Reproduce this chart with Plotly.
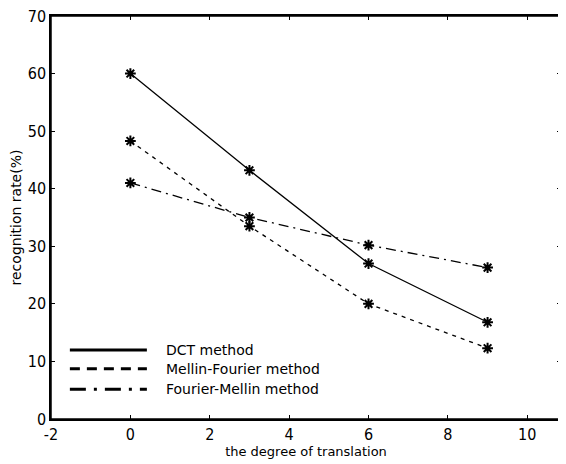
import plotly.graph_objects as go

x_vals = [0, 3, 6, 9]
dct = [60.0, 43.2, 27.0, 16.8]
mellin_fourier = [48.3, 33.5, 20.0, 12.3]
fourier_mellin = [41.0, 35.0, 30.2, 26.3]
series_names = ["DCT method", "Mellin-Fourier method", "Fourier-Mellin method"]
x_ticks = [-2, 0, 2, 4, 6, 8, 10]
x_tick_labels = ["-2", "0", "2", "4", "6", "8", "10"]
y_ticks = [0, 10, 20, 30, 40, 50, 60, 70]
y_tick_labels = ["0", "10", "20", "30", "40", "50", "60", "70"]

series = [dct, mellin_fourier, fourier_mellin]
dashes = ["solid", "4px,5px", "10px,5px,2px,5px"]
legend_dashes = ["solid", "10px,7px", "16px,8px,3px,8px"]

fig = go.Figure()
for name, ys, d in zip(series_names, series, dashes):
    fig.add_trace(go.Scatter(
        x=x_vals, y=ys, name=name, mode="lines+markers",
        line=dict(color="black", width=1.3, dash=d),
        marker=dict(symbol="asterisk-open", size=9, color="black",
                    line=dict(color="black", width=2)),
        showlegend=False,
    ))

# frame around the plot area
fig.add_shape(type="rect", xref="paper", yref="paper", x0=0, x1=1, y0=0, y1=1,
              line=dict(color="black", width=1.5), layer="above")

# custom legend (long line samples as in the original)
leg_y = [0.171, 0.125, 0.074]
for name, ly, d in zip(series_names, leg_y, legend_dashes):
    fig.add_shape(type="line", xref="paper", yref="paper",
                  x0=0.037, x1=0.188, y0=ly, y1=ly,
                  line=dict(color="black", width=3, dash=d))
    fig.add_annotation(xref="paper", yref="paper", x=0.222, y=ly,
                       text=name, showarrow=False, xanchor="left",
                       yanchor="middle",
                       font=dict(family="DejaVu Sans", size=14, color="black"))

axis_common = dict(
    showline=True, linecolor="black", linewidth=1.5, mirror="allticks",
    ticks="inside", ticklen=4, tickcolor="black", tickwidth=1,
    showgrid=False, zeroline=False, automargin=False, ticklabeloverflow="allow",
    tickfont=dict(family="Liberation Sans Narrow, DejaVu Sans Condensed", size=16, color="black"),
)

# the page body adds an 8px offset, so the figure is sized to fit inside 566x464
fig.update_layout(
    width=558, height=456,
    margin=dict(l=43, r=5, t=8, b=45),
    paper_bgcolor="white", plot_bgcolor="white",
    xaxis=dict(range=[-2, 10.85], tickvals=x_ticks, ticktext=x_tick_labels,
               title=dict(text="the degree of translation", standoff=2,
                          font=dict(family="DejaVu Sans", size=13, color="black")),
               **axis_common),
    yaxis=dict(range=[0, 70], tickvals=y_ticks, ticktext=y_tick_labels,
               title=dict(text="recognition rate(%)", standoff=4,
                          font=dict(family="DejaVu Sans", size=14, color="black")),
               **axis_common),
)

fig.write_html("out.html")
